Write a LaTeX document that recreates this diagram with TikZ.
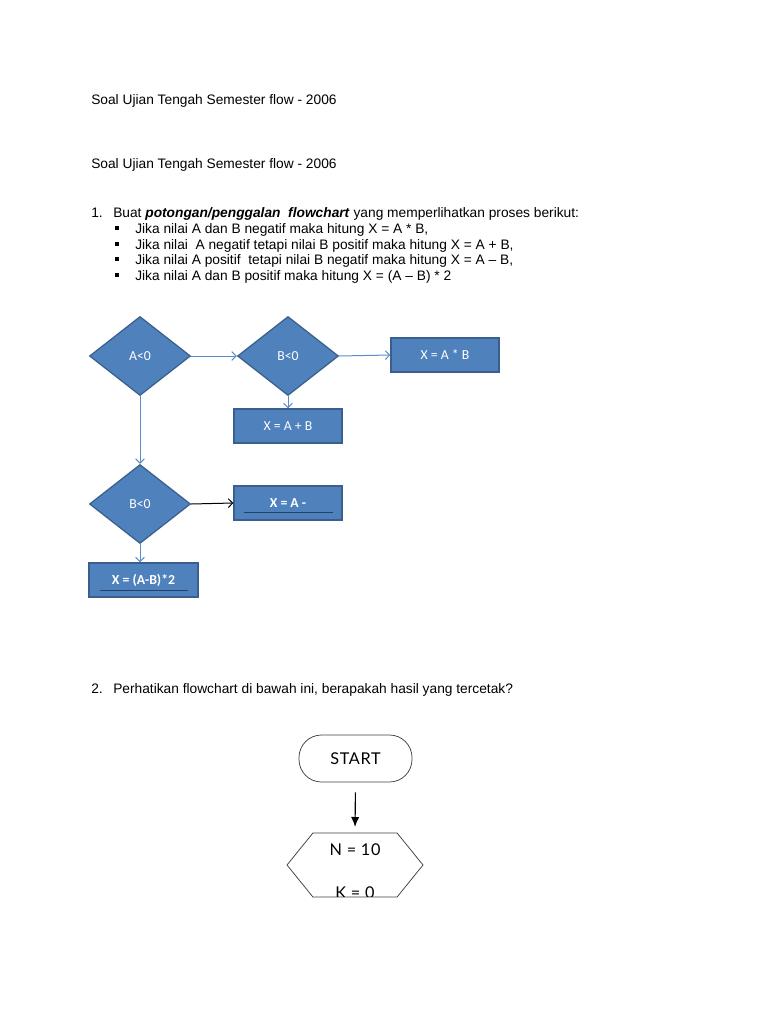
\documentclass[tikz,border=0pt]{standalone}
\usepackage{fontspec}
\setmainfont{Liberation Sans}
\newfontfamily\boxfont{Carlito}
\newfontfamily\handfont[LetterSpace=4]{Lato}
\usetikzlibrary{shapes.geometric, shapes.symbols, arrows.meta}
\definecolor{boxblue}{HTML}{4F81BD}
\definecolor{boxedge}{HTML}{3A5F8C}
\definecolor{flowblue}{HTML}{5A8CCB}
\definecolor{lineblue}{HTML}{23406E}

\begin{document}
\begin{tikzpicture}[x=0.8pt, y=-0.8pt,
    txt/.style={anchor=base west, inner sep=0pt, font=\fontsize{11}{13}\selectfont},
    decision/.style={diamond, fill=boxblue, draw=boxedge, line width=1pt, inner sep=0pt,
      minimum width=80.8pt, minimum height=63.2pt, text=white, font=\boxfont\fontsize{11}{13}\selectfont},
    process/.style={rectangle, fill=boxblue, draw=boxedge, line width=1pt,
      minimum width=86.4pt, minimum height=27.2pt, text=white, font=\boxfont\fontsize{11}{13}\selectfont},
    flow/.style={draw=flowblue, line width=0.8pt, -{Straight Barb[length=3.5pt, width=7pt]}},
    outline/.style={draw=black!75, line width=0.6pt, font=\handfont\fontsize{13}{15}\selectfont}]
  \useasboundingbox (0,0) rectangle (768,1024);

  % Header:
  \node[txt] (head1) at (91,105) {Soal Ujian Tengah Semester flow - 2006};
  \node[txt] (head2) at (91,169) {Soal Ujian Tengah Semester flow - 2006};

  % Question 1:
  \node[txt] (q1num) at (91,218) {1.};
  \node[txt] (q1) at (113,218) {Buat \textbf{\textit{potongan/penggalan}}\ \ \textbf{\textit{flowchart}} yang memperlihatkan proses berikut:};
  \foreach \t [count=\i] in {{Jika nilai A dan B negatif maka hitung X = A * B,},
      {Jika nilai\ \ A negatif tetapi nilai B positif maka hitung X = A + B,},
      {Jika nilai A positif\ \ tetapi nilai B negatif maka hitung X = A -- B,},
      {Jika nilai A dan B positif maka hitung X = (A -- B) * 2}} {
    \fill (115,{233.5+15.5*(\i-1)-7.2}) rectangle (119,{233.5+15.5*(\i-1)-3.2});
    \node[txt] (b\i) at (135,{233.5+15.5*(\i-1)}) {\t};
  }

  % Flowchart 1:
  \node[decision] (a) at (140,356) {A<0};
  \node[decision] (b) at (288,356) {B<0};
  \node[process] (xab) at (445,355) {X = A * B};
  \node[process] (xapb) at (288,426) {X = A + B};
  \node[decision] (bb) at (140,504) {B<0};
  \node[process] (xamb) at (288,503) {\textbf{X = A -}};
  \node[process, minimum width=87.2pt] (xtwo) at (143.5,580) {\textbf{X = (A-B)*2}};
  \draw[lineblue, line width=1.2pt] ([xshift=8.8pt, yshift=6.4pt]xamb.south west) -- ([xshift=-8pt, yshift=6.4pt]xamb.south east);
  \draw[lineblue, line width=1.2pt] ([xshift=9.6pt, yshift=5.6pt]xtwo.south west) -- ([xshift=-8.8pt, yshift=5.6pt]xtwo.south east);

  \draw[flow] (a.east) -- (b.west);
  \draw[flow] (b.east) -- (xab.west);
  \draw[flow] (b.south) -- (xapb.north);
  \draw[flow] (a.south) -- (bb.north);
  \draw[line width=0.8pt, -{Straight Barb[length=3.5pt, width=7pt]}] (bb.east) -- (xamb.west);
  \draw[flow] (bb.south) -- (bb.south |- xtwo.north);

  % Question 2:
  \node[txt] (q2num) at (91,693) {2.};
  \node[txt] (q2) at (113,693) {Perhatikan flowchart di bawah ini, berapakah hasil yang tercetak?};

  % Flowchart 2:
  \node[outline, rectangle, rounded corners=18pt, minimum width=90.4pt, minimum height=37.6pt] (start) at (355.5,758.5) {START};
  \node[outline, signal, signal to=west and east, signal from=nowhere, signal pointer angle=102,
    minimum width=108.8pt, minimum height=51.2pt] (init) at (355,865) {};
  \node[outline, draw=none] (n) at (355,850) {N = 10};
  \begin{scope}
    \clip (300,870) rectangle (410,896.5);
    \node[outline, draw=none, anchor=base] (k) at (355,898) {K = 0};
  \end{scope}
  \draw[line width=0.9pt, -{Latex[length=8pt, width=6.5pt]}, shorten <=8pt, shorten >=4.5pt] (start.south) -- (init.north);
\end{tikzpicture}
\end{document}
